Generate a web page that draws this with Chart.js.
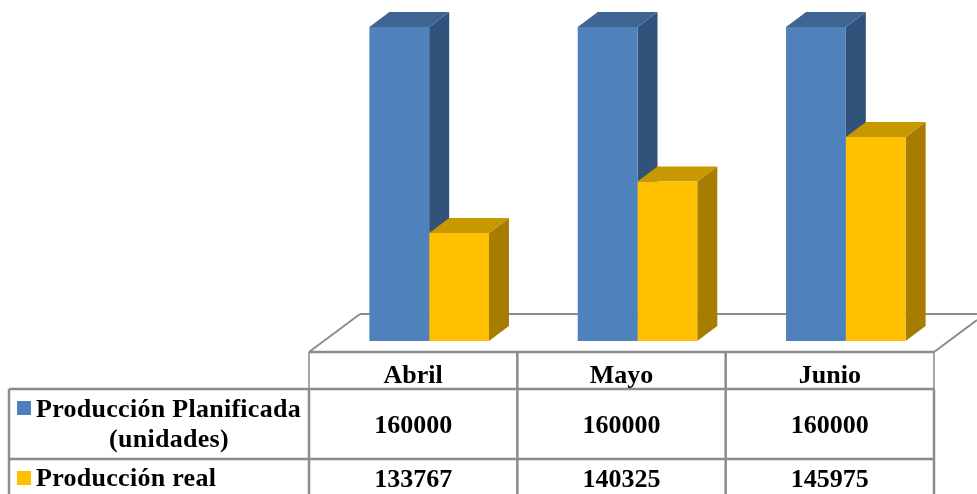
<!DOCTYPE html>
<html>
<head>
<meta charset="utf-8">
<title>Producción</title>
<script src="https://cdn.jsdelivr.net/npm/chart.js@4"></script>
<style>
html, body { margin: 0; padding: 0; background: #fff; overflow: hidden; }
canvas { display: block; }
</style>
</head>
<body>
<canvas id="chart" width="977" height="494"></canvas>
<script>
var months = ["Abril", "Mayo", "Junio"];
var planned = [160000, 160000, 160000];
var actual = [133767, 140325, 145975];
var seriesNames = [["Producción Planificada", "(unidades)"], ["Producción real"]];

var faceColors = ["#4F81BD", "#FFC000"];
var topColors = ["#3E6592", "#C79800"];
var sideColors = ["#31527A", "#A67D00"];

var depthX = 20;
var depthY = 15;
var gridColor = "#8C8C8C";

function fillPoly(ctx, color, pts) {
    ctx.fillStyle = color;
    ctx.beginPath();
    ctx.moveTo(pts[0][0], pts[0][1]);
    for (var i = 1; i < pts.length; i++) ctx.lineTo(pts[i][0], pts[i][1]);
    ctx.closePath();
    ctx.fill();
}

function line(ctx, x1, y1, x2, y2) {
    ctx.beginPath();
    ctx.moveTo(x1, y1);
    ctx.lineTo(x2, y2);
    ctx.stroke();
}

// fake 3D: floor and bar depth are drawn behind the library's own bars
var depthPlugin = {
    id: "depth",
    beforeDatasetsDraw: function (chart) {
        var ctx = chart.ctx;
        var floorFront = 352, floorBack = 314;
        var left = chart.chartArea.left - 16;
        var right = chart.chartArea.right - 16;
        // the y axis does not start at zero, so bars stop at the plot bottom
        var base = chart.scales.y.bottom;

        ctx.save();
        ctx.strokeStyle = gridColor;
        ctx.lineWidth = 2;
        line(ctx, left + 51, floorBack, 977, floorBack);
        line(ctx, left, floorFront, left + 51, floorBack);
        line(ctx, right, floorFront, 977, 320);
        ctx.restore();

        chart.data.datasets.forEach(function (ds, d) {
            chart.getDatasetMeta(d).data.forEach(function (bar) {
                var p = bar.getProps(["x", "y", "width"], true);
                var l = p.x - p.width / 2, r = p.x + p.width / 2;
                fillPoly(ctx, sideColors[d], [[r, p.y], [r + depthX, p.y - depthY], [r + depthX, base - depthY], [r, base]]);
                fillPoly(ctx, topColors[d], [[l, p.y], [l + depthX, p.y - depthY], [r + depthX, p.y - depthY], [r, p.y]]);
            });
        });
    }
};

// data table under the plot, columns follow the category scale
var tablePlugin = {
    id: "dataTable",
    afterDraw: function (chart) {
        var ctx = chart.ctx;
        var x = chart.scales.x;
        var shift = 16;
        var half = (x.getPixelForTick(1) - x.getPixelForTick(0)) / 2;
        var columns = months.map(function (m, i) { return x.getPixelForTick(i) - shift; });
        var tableLeft = 9;
        var colLeft = columns[0] - half;
        var colRight = columns[columns.length - 1] + half;
        var top = 352, header = 389, row = 459, bottom = 496;

        ctx.save();
        ctx.strokeStyle = "#A6A6A6";
        ctx.lineWidth = 2;
        line(ctx, colLeft, top, colLeft, header);
        line(ctx, colRight, top, colRight, header);

        ctx.strokeStyle = gridColor;
        ctx.lineWidth = 2.5;
        line(ctx, colLeft, top, colRight, top);
        line(ctx, tableLeft, header, colRight, header);
        line(ctx, tableLeft, row, colRight, row);
        line(ctx, tableLeft, header, tableLeft, bottom);
        line(ctx, colLeft, header, colLeft, bottom);
        line(ctx, colRight, header, colRight, bottom);
        columns.slice(0, -1).forEach(function (c) {
            line(ctx, c + half, top, c + half, bottom);
        });

        ctx.fillStyle = "#000";
        ctx.font = "bold 26px 'Liberation Serif'";
        ctx.textAlign = "center";
        ctx.textBaseline = "alphabetic";
        months.forEach(function (m, i) {
            ctx.fillText(m, columns[i], 383);
            ctx.fillText(String(planned[i]), columns[i], 433);
            ctx.fillText(String(actual[i]), columns[i], 487);
        });

        ctx.letterSpacing = "0.28px";
        ctx.textAlign = "left";
        ctx.fillText(seriesNames[0][0], 36, 417);
        ctx.textAlign = "center";
        ctx.fillText(seriesNames[0][1], 169, 447);
        ctx.textAlign = "left";
        ctx.fillText(seriesNames[1][0], 36, 486);
        ctx.letterSpacing = "0px";

        ctx.fillStyle = faceColors[0];
        ctx.fillRect(17, 401, 14, 14);
        ctx.fillStyle = faceColors[1];
        ctx.fillRect(17, 471, 14, 14);
        ctx.restore();
    }
};

var ctx = document.getElementById("chart").getContext("2d");

new Chart(ctx, {
    type: "bar",
    data: {
        labels: months,
        datasets: [
            { label: seriesNames[0].join(" "), data: planned, backgroundColor: faceColors[0], borderWidth: 0 },
            { label: seriesNames[1][0], data: actual, backgroundColor: faceColors[1], borderWidth: 0 }
        ]
    },
    options: {
        responsive: false,
        animation: false,
        layout: { padding: { left: 325, right: 27, top: 27, bottom: 153 } },
        categoryPercentage: 0.574,
        barPercentage: 1,
        plugins: { legend: { display: false }, tooltip: { enabled: false } },
        scales: {
            x: { display: false },
            y: { display: false, min: 120000, max: 160000 }
        }
    },
    plugins: [depthPlugin, tablePlugin]
});
</script>
</body>
</html>
